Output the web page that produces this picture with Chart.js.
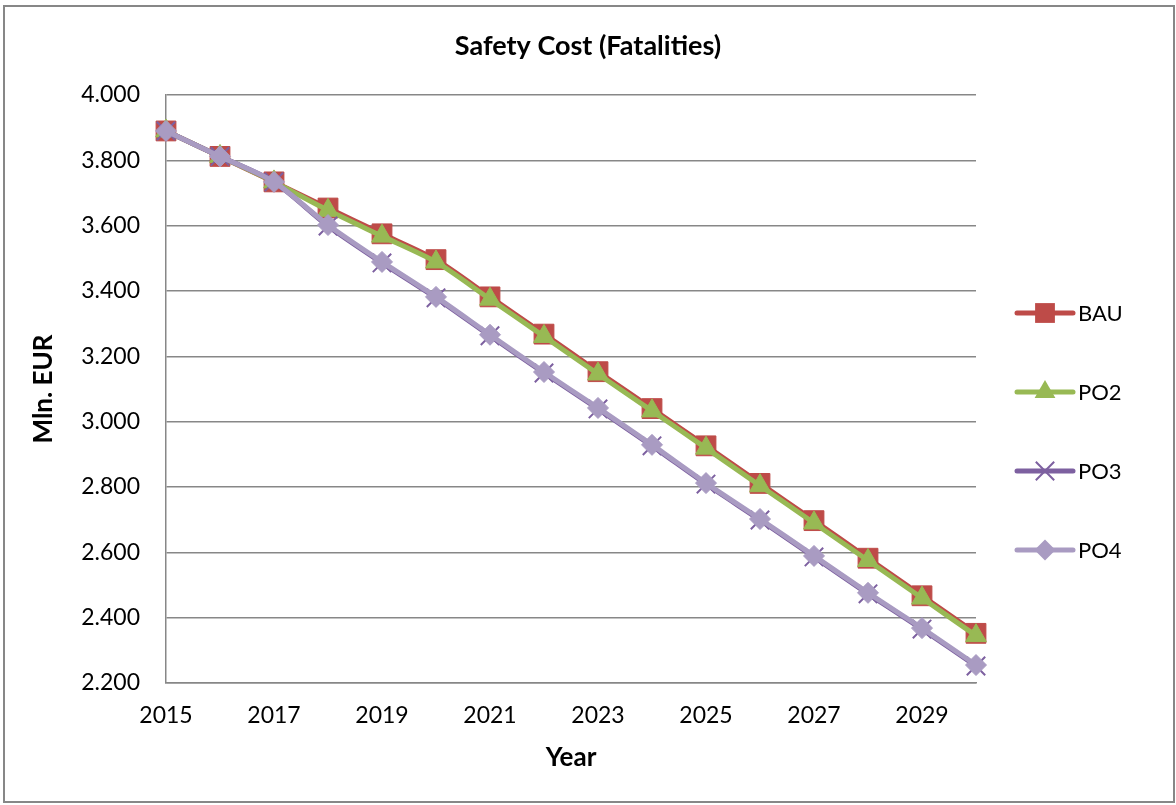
<!DOCTYPE html>
<html>
<head>
<meta charset="utf-8">
<title>Safety Cost (Fatalities)</title>
<script src="https://cdn.jsdelivr.net/npm/chart.js@4"></script>
<style>
  html, body { margin: 0; padding: 0; background: #fff; }
  #wrap { width: 1176px; height: 805px; }
</style>
</head>
<body>
<div id="wrap"><canvas id="chart" width="1176" height="805"></canvas></div>
<script>
// ---- data ----
const years = ['2015','2016','2017','2018','2019','2020','2021','2022','2023','2024','2025','2026','2027','2028','2029','2030'];
const xTickLabels = ['2015','2017','2019','2021','2023','2025','2027','2029'];
const seriesNames = ['BAU', 'PO2', 'PO3', 'PO4'];
const bau = [3890,3812,3734,3654,3575,3496,3382,3268,3153,3040,2926,2811,2697,2582,2467,2352];
const po2 = [3890,3812,3734,3647,3568,3489,3375,3261,3146,3033,2919,2804,2690,2575,2460,2345];
const po3 = [3890,3812,3734,3599,3486,3379,3263,3149,3039,2926,2809,2699,2586,2473,2365,2252];
const po4 = [3890,3812,3734,3602,3489,3382,3266,3152,3042,2929,2812,2702,2589,2476,2368,2255];
const yMin = 2200, yMax = 4000, yStep = 200;

const FONT = 'Lato';
const GRID = '#878787';

function fmtThousands(v) {
  const th = Math.floor(v / 1000);
  return th + '.' + String(v % 1000).padStart(3, '0');
}

function series(label, data, color, style, radius, order) {
  return {
    label, data, order,
    borderColor: color,
    backgroundColor: color,
    borderWidth: 5,
    pointStyle: style,
    pointRadius: radius,
    pointHoverRadius: radius,
    pointBackgroundColor: color,
    pointBorderColor: color,
    pointBorderWidth: style === 'crossRot' ? 2 : 1,
    tension: 0.25,
    fill: false,
  };
}

// white background + outer frame
const framePlugin = {
  id: 'frame',
  beforeDraw(chart) {
    const c = chart.ctx;
    c.save();
    c.fillStyle = '#fff';
    c.fillRect(0, 0, chart.width, chart.height);
    c.strokeStyle = GRID;
    c.lineWidth = 2;
    c.strokeRect(4, 6, chart.width - 6, chart.height - 9);
    c.restore();
  }
};

// Excel-like legend: line segment with marker, label to the right
function drawMarker(c, style, x, y, r) {
  c.beginPath();
  if (style === 'rect') {
    const s = r * Math.SQRT1_2;
    c.rect(x - s, y - s, 2 * s, 2 * s);
    c.fill();
  } else if (style === 'triangle') {
    c.moveTo(x, y - r);
    c.lineTo(x + r * 0.866, y + r / 2);
    c.lineTo(x - r * 0.866, y + r / 2);
    c.closePath();
    c.fill();
  } else if (style === 'crossRot') {
    const s = r * Math.SQRT1_2;
    c.moveTo(x - s, y - s); c.lineTo(x + s, y + s);
    c.moveTo(x + s, y - s); c.lineTo(x - s, y + s);
    c.lineWidth = 2;
    c.stroke();
  } else if (style === 'rectRot') {
    c.moveTo(x - r, y); c.lineTo(x, y - r); c.lineTo(x + r, y); c.lineTo(x, y + r);
    c.closePath();
    c.fill();
  }
}

const legendPlugin = {
  id: 'xlLegend',
  afterDraw(chart) {
    const c = chart.ctx;
    const area = chart.chartArea;
    const x0 = area.right + 41;
    const lineLen = 56;
    const y0 = area.top + 218;
    const gap = 79;
    c.save();
    chart.data.datasets.forEach((ds, i) => {
      const y = y0 + i * gap;
      c.strokeStyle = ds.borderColor;
      c.fillStyle = ds.pointBackgroundColor;
      c.lineWidth = 5;
      c.lineCap = 'round';
      c.beginPath();
      c.moveTo(x0, y);
      c.lineTo(x0 + lineLen, y);
      c.stroke();
      c.lineCap = 'butt';
      c.strokeStyle = ds.pointBorderColor;
      drawMarker(c, ds.pointStyle, x0 + lineLen / 2, y, ds.pointRadius);
      c.fillStyle = '#000';
      c.font = '22px ' + FONT;
      c.textAlign = 'left';
      c.textBaseline = 'middle';
      c.fillText(ds.label, x0 + lineLen + 5, y + 1);
    });
    c.restore();
  }
};

new Chart(document.getElementById('chart'), {
  type: 'line',
  data: {
    labels: years,
    datasets: [
      series(seriesNames[0], bau, '#BE4B48', 'rect', 14, 4),
      series(seriesNames[1], po2, '#98B954', 'triangle', 12, 3),
      series(seriesNames[2], po3, '#7D60A0', 'crossRot', 13, 2),
      series(seriesNames[3], po4, '#A99BC2', 'rectRot', 10.5, 1),
    ],
  },
  options: {
    responsive: false,
    animation: false,
    events: [],
    layout: { padding: 0 },
    plugins: {
      legend: { display: false },
      tooltip: { enabled: false },
      title: {
        display: true,
        text: 'Safety Cost (Fatalities)',
        color: '#000',
        font: { family: FONT, size: 27, weight: 'bold' },
        padding: { top: 30, bottom: 32.6 },
      },
    },
    scales: {
      x: {
        offset: false,
        afterFit: (s) => { s.height = 122; },
        grid: { display: false, drawTicks: false },
        border: { display: true, color: GRID, width: 1.5 },
        ticks: {
          autoSkip: false,
          maxRotation: 0,
          padding: 19,
          color: '#000',
          font: { family: FONT, size: 23 },
          callback: function (v) {
            const lab = this.getLabelForValue(v);
            return xTickLabels.includes(lab) ? lab : '';
          },
        },
        title: {
          display: true,
          text: 'Year',
          color: '#000',
          font: { family: FONT, size: 26, weight: 'bold' },
          padding: { top: 0, bottom: 32 },
        },
      },
      y: {
        min: yMin,
        max: yMax,
        afterFit: (s) => { s.width = 166; },
        grid: { color: GRID, lineWidth: 1.5, drawTicks: false },
        border: { display: true, color: GRID, width: 1.5 },
        ticks: {
          stepSize: yStep,
          padding: 26,
          color: '#000',
          font: { family: FONT, size: 23 },
          callback: (v) => fmtThousands(v),
        },
        title: {
          display: true,
          text: 'Mln. EUR',
          color: '#000',
          font: { family: FONT, size: 26, weight: 'bold' },
          padding: { top: 28, bottom: 0 },
        },
      },
      // empty right-hand box that reserves the legend column
      legendSpace: {
        type: 'linear',
        position: 'right',
        display: true,
        afterFit: (s) => { s.width = 200; },
        grid: { display: false, drawTicks: false },
        border: { display: false },
        ticks: { display: false },
      },
    },
  },
  plugins: [framePlugin, legendPlugin],
});
</script>
</body>
</html>
